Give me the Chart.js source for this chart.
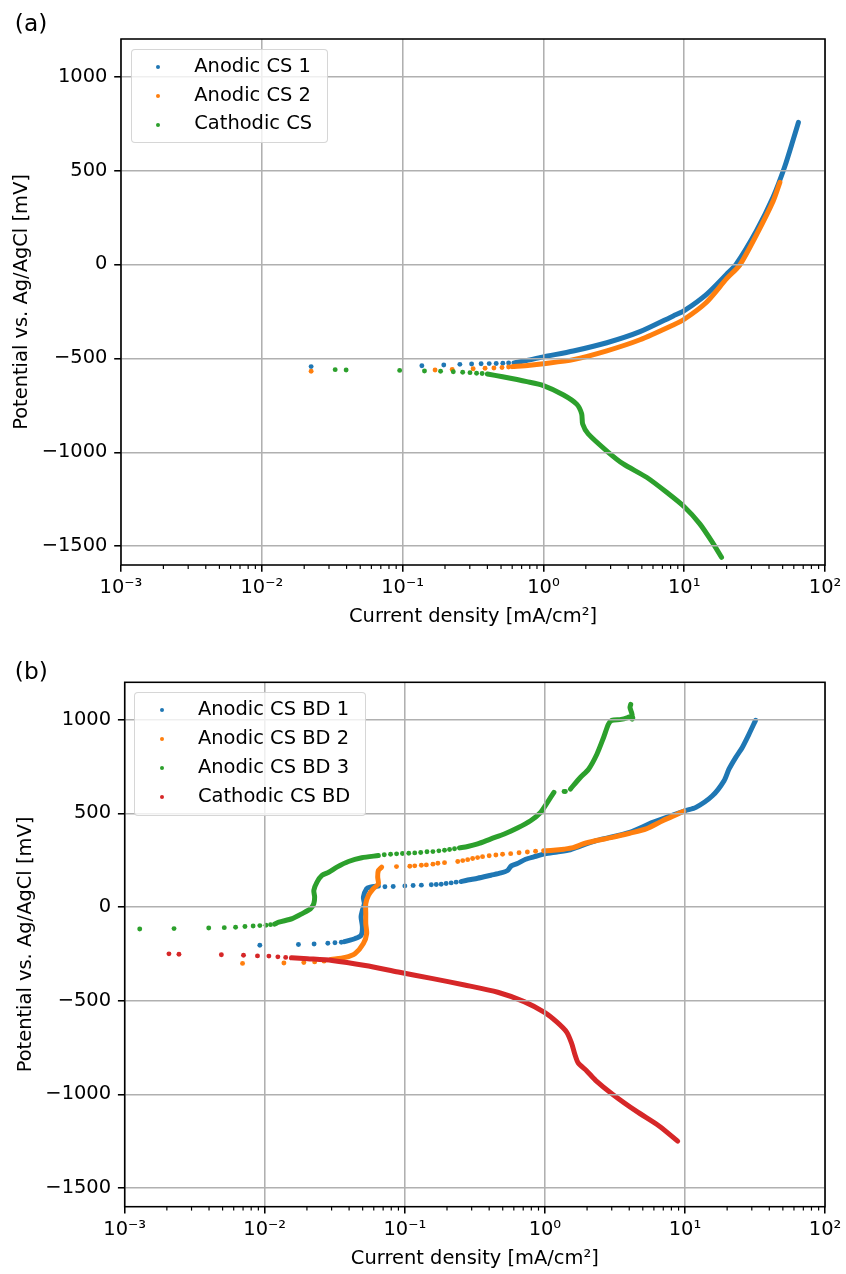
<!DOCTYPE html>
<html>
<head>
<meta charset="utf-8">
<script src="https://cdn.jsdelivr.net/npm/chart.js@4.4.0/dist/chart.umd.min.js"></script>
<style>
  html, body { margin: 0; padding: 0; background: #fff; }
  #wrap { position: relative; width: 846px; height: 1274px; overflow: hidden; font-family: "DejaVu Sans", "Liberation Sans", sans-serif; }
  canvas { position: absolute; left: 0; }
  .panel-label { position: absolute; font-size: 23.3px; line-height: 23.3px; color: #000; white-space: nowrap; }
  .legend { position: absolute; box-sizing: border-box; border: 1px solid rgba(204,204,204,0.8); border-radius: 4px; background: rgba(255,255,255,0.8); padding: 3px 15px 3px 0; }
  .legend .row { position: relative; height: 28.9px; padding-left: 62.6px; font-size: 19.44px; line-height: 28.9px; white-space: nowrap; color: #000; }
  .legend .row span { position: relative; top: -1px; }
  .legend .dot { position: absolute; left: 24.6px; top: 12.45px; width: 4px; height: 4px; border-radius: 50%; }
</style>
</head>
<body>
<div id="wrap">
  <canvas id="chartA" width="846" height="637" style="top:0px"></canvas>
  <canvas id="chartB" width="846" height="637" style="top:637px"></canvas>
</div>
<script>
// ---------------- axis ticks ----------------
const xMajorTicks = [0.001, 0.01, 0.1, 1, 10, 100];
const xTickLabels = ['10\u207B\u00B3', '10\u207B\u00B2', '10\u207B\u00B9', '10\u2070', '10\u00B9', '10\u00B2'];
const xMinorMultipliers = [2, 3, 4, 5, 6, 7, 8, 9];
const yTickValues = [-1500, -1000, -500, 0, 500, 1000];

// ---------------- panel (a) data: [current density mA/cm2, potential mV] ----------------
const anodicCS1Dots = [[0.0224,-544],[0.137,-539],[0.196,-535],[0.255,-532],[0.309,-530],[0.361,-529],[0.412,-528],[0.462,-527],[0.515,-526],[0.566,-525],[0.617,-524]];
const anodicCS1Trace = [[0.64,-522],[0.8,-508],[1.0,-492],[1.63,-461],[2.82,-417],[4.85,-358],[8.36,-274],[10,-246],[14.4,-159],[20,-52],[23.4,2],[32.6,180],[42.8,359],[51.7,520],[59.3,662],[64.7,756]];

const anodicCS2Dots = [[0.0224,-569],[0.170,-562],[0.225,-559],[0.317,-555],[0.385,-553],[0.445,-551],[0.508,-549],[0.566,-546]];
const anodicCS2Trace = [[0.6,-544],[0.8,-537],[1.0,-529],[1.63,-507],[2.82,-460],[4.85,-401],[8.36,-322],[10,-292],[14.4,-201],[20,-76],[24.8,-3],[32.6,158],[42.8,337],[47.8,437]];

const cathodicCSDots = [[0.0332,-560],[0.0397,-562],[0.0953,-564],[0.143,-567],[0.186,-569],[0.229,-571],[0.267,-574],[0.301,-576],[0.335,-579],[0.367,-581]];
const cathodicCSTrace = [[0.40,-583],[0.513,-598],[0.762,-624],[1.0,-645],[1.39,-695],[1.73,-745],[1.87,-796],[1.90,-849],[2.08,-902],[2.89,-1000],[3.69,-1062],[5.40,-1133],[7.50,-1213],[10,-1290],[12.9,-1381],[16.1,-1487],[18.4,-1559]];

// ---------------- panel (b) data ----------------
const anodicBD1Dots = [[0.00922,-204],[0.0174,-200],[0.0225,-197],[0.0282,-193],[0.0317,-191],[0.0352,-188],
  [0.0721,108],[0.0826,110],[0.1,113],[0.1146,115],[0.1312,117],[0.1545,119],[0.1676,120],[0.1818,122],[0.1972,126],[0.2142,129],[0.2323,133]];
const anodicBD1TraceLow = [[0.037,-185],[0.0442,-168],[0.0487,-151],[0.0498,-106],[0.0487,-53],[0.0498,-18],[0.0514,18],[0.0506,53],[0.0534,98],[0.0565,106],[0.0647,112]];
const anodicBD1TraceHigh = [[0.252,136],[0.281,144],[0.331,154],[0.412,170],[0.485,182],[0.541,195],[0.576,220],[0.636,232],[0.728,255],[0.834,268],[1.0,284],[1.22,294],[1.52,306],[1.69,319],[2.33,355],[4.03,399],[5.89,452],[10,514],[11.97,532],[15.7,594],[19.0,674],[20.6,736],[23.0,798],[25.6,851],[28.6,922],[31.9,997]];

const anodicBD2Dots = [[0.00694,-301],[0.0137,-299],[0.019,-296],[0.0227,-293],[0.0265,-289],
  [0.0872,216],[0.1085,218],[0.1177,220],[0.1312,223],[0.1424,225],[0.1587,229],[0.1722,234],[0.192,237],[0.2387,243],[0.2591,248],[0.281,253],[0.3048,259],[0.3307,264],[0.3588,269],[0.4,274],[0.4467,278],[0.4985,282],[0.5697,285],[0.6536,290],[0.7497,294],[0.8575,298]];
const anodicBD2TraceLow = [[0.0297,-280],[0.0375,-269],[0.0442,-248],[0.0506,-195],[0.0534,-142],[0.0526,-88],[0.0526,-35],[0.0526,18],[0.055,62],[0.0596,98],[0.0647,124],[0.064,160],[0.0647,195],[0.0683,213]];
const anodicBD2TraceHigh = [[0.98,300],[1.15,303],[1.37,309],[1.59,317],[1.89,338],[2.33,355],[3.03,372],[4.03,394],[5.28,417],[6.93,461],[9.05,500],[9.8,512]];

const anodicBD3Dots = [[0.00128,-117],[0.00225,-115],[0.00398,-112],[0.00514,-110],[0.00619,-108],[0.00722,-104],[0.00826,-101],[0.00922,-99],[0.0102,-97],[0.011,-94],
  [0.0713,279],[0.0791,282],[0.0873,284],[0.0962,286],[0.1067,287],[0.1177,289],[0.1298,291],[0.1439,295],[0.1587,296],[0.175,300],[0.192,303],[0.2086,307],[0.2263,311],
  [1.37,617],[1.40,617],[4.2,1003],[4.25,1010]];
const anodicBD3TraceLow = [[0.0118,-91],[0.0126,-81],[0.0157,-62],[0.0185,-35],[0.0212,-9],[0.0224,18],[0.0227,53],[0.0224,89],[0.0236,133],[0.0256,169],[0.0286,186],[0.0327,213],[0.0396,243],[0.0492,263],[0.0647,275]];
const anodicBD3TraceMid = [[0.2455,316],[0.281,323],[0.331,337],[0.412,364],[0.513,390],[0.636,422],[0.79,461],[0.931,505],[1.04,558],[1.16,612]];
const anodicBD3TraceHigh = [[1.52,630],[1.79,692],[2.05,736],[2.35,816],[2.62,904],[2.84,976],[3.0,997],[3.5,1002],[3.9,1012],[4.2,1022],[4.15,1040],[4.05,1065],[4.1,1082]];

const cathodicBDDots = [[0.00207,-250],[0.00244,-252],[0.0049,-255],[0.00705,-257],[0.00887,-261],[0.0107,-262],[0.0124,-266],[0.0141,-269]];
const cathodicBDTrace = [[0.0155,-271],[0.0202,-276],[0.0302,-285],[0.0522,-312],[0.0897,-347],[0.155,-381],[0.267,-416],[0.461,-455],[0.71,-505],[1.0,-564],[1.22,-615],[1.43,-668],[1.55,-727],[1.64,-789],[1.73,-833],[1.99,-875],[2.3,-925],[3.07,-1002],[4.49,-1090],[6.57,-1170],[8.87,-1250]];

// ---------------- series definitions ----------------
const COLORS = { blue: '#1f77b4', orange: '#ff7f0e', green: '#2ca02c', red: '#d62728' };
const seriesA = [
  { label: 'Anodic CS 1', color: COLORS.blue, dots: anodicCS1Dots, traces: [anodicCS1Trace] },
  { label: 'Anodic CS 2', color: COLORS.orange, dots: anodicCS2Dots, traces: [anodicCS2Trace] },
  { label: 'Cathodic CS', color: COLORS.green, dots: cathodicCSDots, traces: [cathodicCSTrace] }
];
const seriesB = [
  { label: 'Anodic CS BD 1', color: COLORS.blue, dots: anodicBD1Dots, traces: [anodicBD1TraceLow, anodicBD1TraceHigh] },
  { label: 'Anodic CS BD 2', color: COLORS.orange, dots: anodicBD2Dots, traces: [anodicBD2TraceLow, anodicBD2TraceHigh] },
  { label: 'Anodic CS BD 3', color: COLORS.green, dots: anodicBD3Dots, traces: [anodicBD3TraceLow, anodicBD3TraceMid, anodicBD3TraceHigh] },
  { label: 'Cathodic CS BD', color: COLORS.red, dots: cathodicBDDots, traces: [cathodicBDTrace] }
];

const FONT = '"DejaVu Sans", "Liberation Sans", sans-serif';
const FS = 19.44;
Chart.defaults.color = '#000';
Chart.defaults.font.family = FONT;
Chart.defaults.font.size = FS;

const toPts = arr => arr.map(([x, y]) => ({ x, y }));

function buildDatasets(series) {
  const ds = [];
  series.forEach((s, i) => {
    const order = series.length - i;
    ds.push({ label: s.label, data: toPts(s.dots), showLine: false, pointRadius: 2.45, pointHoverRadius: 2.45,
      pointBorderWidth: 0, borderWidth: 0, backgroundColor: s.color, borderColor: s.color, order });
    s.traces.forEach(t => ds.push({ label: '', data: toPts(t), showLine: true, pointRadius: 0, pointHoverRadius: 0,
      borderWidth: 5, borderColor: s.color, backgroundColor: s.color, borderCapStyle: 'round',
      borderJoinStyle: 'round', tension: 0.25, order }));
  });
  return ds;
}

function xLabel(v) {
  const i = xMajorTicks.findIndex(t => Math.abs(Math.log10(t) - Math.log10(v)) < 1e-6);
  return i >= 0 ? xTickLabels[i] : '';
}
function yLabel(v) { return v < 0 ? '\u2212' + Math.abs(v) : String(v); }

const framePlugin = {
  id: 'frame',
  afterDraw(chart) {
    const { ctx, chartArea: a } = chart;
    ctx.save();
    ctx.strokeStyle = '#000';
    ctx.lineWidth = 1.56;
    ctx.strokeRect(a.left, a.top, a.right - a.left, a.bottom - a.top);
    ctx.restore();
  }
};
const minorTickPlugin = {
  id: 'minorTicks',
  afterDraw(chart) {
    const s = chart.scales.x, ctx = chart.ctx, b = chart.chartArea.bottom;
    ctx.save();
    ctx.strokeStyle = '#000';
    ctx.lineWidth = 1.17;
    xMajorTicks.slice(0, -1).forEach(dec => {
      xMinorMultipliers.forEach(m => {
        const px = s.getPixelForValue(m * dec);
        ctx.beginPath(); ctx.moveTo(px, b); ctx.lineTo(px, b + 3.9); ctx.stroke();
      });
    });
    ctx.restore();
  }
};

function makeChart(canvasId, series, p) {
  const gridOpts = { color: '#b0b0b0', lineWidth: 1.56, z: 1, drawTicks: true, tickLength: 6.8, tickColor: '#000', tickWidth: 1.56 };
  return new Chart(document.getElementById(canvasId), {
    type: 'scatter',
    data: { datasets: buildDatasets(series) },
    plugins: [framePlugin, minorTickPlugin],
    options: {
      responsive: false, animation: false, devicePixelRatio: 1, events: [],
      layout: { padding: { left: 0, top: p.top, right: p.right, bottom: p.padBottom } },
      plugins: { legend: { display: false }, tooltip: { enabled: false }, title: { display: false } },
      scales: {
        x: {
          type: 'logarithmic', position: 'bottom', min: 0.001, max: 100,
          afterBuildTicks: s => { s.ticks = xMajorTicks.map(v => ({ value: v, major: true })); },
          afterFit: s => { s.height = p.xAxisHeight; },
          ticks: { autoSkip: false, maxRotation: 0, minRotation: 0, padding: 4.7, color: '#000', font: { family: FONT, size: FS }, callback: v => xLabel(v) },
          grid: gridOpts,
          border: { display: false },
          title: { display: true, text: 'Current density [mA/cm\u00B2]', color: '#000', font: { family: FONT, size: FS }, padding: { top: 0, bottom: 0 } }
        },
        y: {
          type: 'linear', position: 'left', min: -1600, max: 1200,
          afterBuildTicks: s => { s.ticks = yTickValues.map(v => ({ value: v })); },
          afterFit: s => { s.width = p.left; },
          ticks: { autoSkip: false, padding: 6.8, color: '#000', font: { family: FONT, size: FS }, callback: v => yLabel(v) },
          grid: gridOpts,
          border: { display: false },
          title: { display: true, text: 'Potential vs. Ag/AgCl [mV]', color: '#000', font: { family: FONT, size: FS }, padding: { top: p.yTitlePad, bottom: 0 } }
        }
      }
    }
  });
}

const chartA = makeChart('chartA', seriesA, { top: 39, left: 121, right: 19.5, padBottom: 8.33, xAxisHeight: 63.67, yTitlePad: 10.6 });
const chartB = makeChart('chartB', seriesB, { top: 45.3, left: 124.7, right: 16.2, padBottom: 3.63, xAxisHeight: 63.67, yTitlePad: 14 });

const wrap = document.getElementById('wrap');
function addPanelLabel(text, left, top) {
  const d = document.createElement('div');
  d.className = 'panel-label';
  d.textContent = text;
  d.style.left = left + 'px';
  d.style.top = top + 'px';
  wrap.appendChild(d);
}
function addLegend(chart, series, offsetTop) {
  const a = chart.chartArea;
  const box = document.createElement('div');
  box.className = 'legend';
  box.style.left = (a.left + 9.7) + 'px';
  box.style.top = (offsetTop + a.top + 9.7) + 'px';
  series.forEach(s => {
    const row = document.createElement('div');
    row.className = 'row';
    const dot = document.createElement('div');
    dot.className = 'dot';
    dot.style.background = s.color;
    const t = document.createElement('span');
    t.textContent = s.label;
    row.appendChild(dot);
    row.appendChild(t);
    box.appendChild(row);
  });
  wrap.appendChild(box);
}
addPanelLabel('(a)', 14.8, 11.3);
addPanelLabel('(b)', 14.8, 658.5);
addLegend(chartA, seriesA, 0);
addLegend(chartB, seriesB, 637);
</script>
</body>
</html>
